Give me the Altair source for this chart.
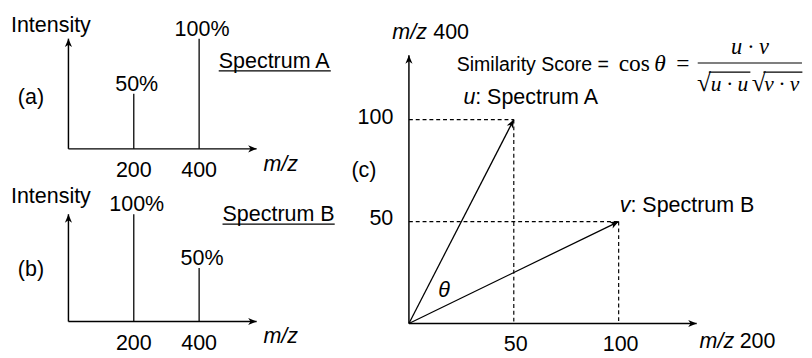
import math
import altair as alt
import pandas as pd

# ---------------- data ----------------
mz_values = [200, 400]          # m/z of the two peaks
spectrum_a = [50, 100]          # relative intensity (%) at m/z 200, 400
spectrum_b = [100, 50]
vector_ticks = [50, 100]        # tick values of the vector plot

# ---------------- layout / style ----------------
FONT = "Liberation Sans"
SERIF = "Liberation Serif"
FS = 22
LW, LH = 352, 175               # left panels
CW, CH = 452, 350               # right panel

A_XDOM = [-185, 866]
A_YDOM = [-31, 123.9]
B_YDOM = [-30, 129.1]
C_XDOM = [-21.86, 188.37]
C_YDOM = [-14.83, 152.63]

ARROW = "M0,0L-1,-0.42L-0.72,0L-1,0.42Z"
ARROW_SIZE = 300
AX_W = 1.5
LN_W = 1.3


def scales(xdom, ydom):
    xs = alt.Scale(domain=xdom, nice=False, zero=False)
    ys = alt.Scale(domain=ydom, nice=False, zero=False)

    def X(f):
        return alt.X(f, type="quantitative", scale=xs, axis=None)

    def Y(f):
        return alt.Y(f, type="quantitative", scale=ys, axis=None)

    def X2(f):
        return alt.X2(f)

    def Y2(f):
        return alt.Y2(f)

    return X, Y, X2, Y2


def txt(rows, X, Y, **style):
    df = pd.DataFrame(rows, columns=["x", "y", "t"])
    base = dict(font=FONT, fontSize=FS, color="black", align="left", baseline="middle")
    base.update(style)
    return alt.Chart(df).mark_text(**base).encode(x=X("x"), y=Y("y"), text=alt.Text("t:N"))


def segs(rows, X, Y, X2, Y2, **style):
    df = pd.DataFrame(rows, columns=["x", "y", "x2", "y2"])
    base = dict(color="black", strokeWidth=LN_W)
    base.update(style)
    return alt.Chart(df).mark_rule(**base).encode(x=X("x"), y=Y("y"), x2=X2("x2"), y2=Y2("y2"))


def heads(rows, X, Y):
    df = pd.DataFrame(rows, columns=["x", "y", "angle"])
    return alt.Chart(df).mark_point(shape=ARROW, filled=True, size=ARROW_SIZE, opacity=1,
                                    color="black").encode(
        x=X("x"), y=Y("y"), angle=alt.Angle("angle:Q", scale=None))


def spectrum_panel(intens, ydom, ann):
    X, Y, X2, Y2 = scales(A_XDOM, ydom)
    xend, yend = ann["xend"], ann["yend"]
    layers = [
        segs([(0, 0, xend, 0), (0, 0, 0, yend)], X, Y, X2, Y2, strokeWidth=AX_W),
        heads([(xend, 0, 0), (0, yend, 270)], X, Y),
        segs([(m, 0, m, i) for m, i in zip(mz_values, intens)], X, Y, X2, Y2),
        txt([(m, i, f"{i}%") for m, i in zip(mz_values, intens)], X, Y,
            align="center", baseline="alphabetic", dy=-3, dx=3),
        txt([(m, 0, str(m)) for m in mz_values], X, Y, align="center", dy=22),
        txt([(ann["mz"][0], ann["mz"][1], "m/z")], X, Y, fontStyle="italic"),
        txt([(ann["int"][0], ann["int"][1], "Intensity"),
             (ann["lab"][0], ann["lab"][1], ann["lab"][2]),
             (ann["name"][0], ann["name"][1], ann["name"][2])], X, Y),
        segs([(ann["ul"][0], ann["ul"][2], ann["ul"][1], ann["ul"][2])], X, Y, X2, Y2),
    ]
    return alt.layer(*layers).properties(width=LW, height=LH)


panel_a = spectrum_panel(spectrum_a, A_YDOM, dict(
    xend=576, yend=100, mz=(597, -14.2), int=(-176, 112), lab=(-155, 46.9, "(a)"),
    name=(460, 79.6, "Spectrum A"), ul=(460, 803, 70.8)))
panel_b = spectrum_panel(spectrum_b, B_YDOM, dict(
    xend=576, yend=100, mz=(597, -13.6), int=(-176, 116.4), lab=(-155, 49, "(b)"),
    name=(471.6, 100, "Spectrum B"), ul=(471.6, 815, 90.9)))

# ---------------- vector panel ----------------
X, Y, X2, Y2 = scales(C_XDOM, C_YDOM)
px_x = CW / (C_XDOM[1] - C_XDOM[0])
px_y = CH / (C_YDOM[1] - C_YDOM[0])

u = (spectrum_a[0], spectrum_a[1])
v = (spectrum_b[0], spectrum_b[1])


def ang(vec):
    a = math.degrees(math.atan2(-vec[1] * px_y, vec[0] * px_x))
    return a % 360


c_layers = [
    segs([(0, 0, 137.2, 0), (0, 0, 0, 131.6)], X, Y, X2, Y2, strokeWidth=AX_W),
    segs([(0, u[1], u[0], u[1]), (u[0], u[1], u[0], 0),
          (0, v[1], v[0], v[1]), (v[0], v[1], v[0], 0)], X, Y, X2, Y2,
         strokeDash=[4, 3], strokeWidth=1.2),
    segs([(0, 0, u[0], u[1]), (0, 0, v[0], v[1])], X, Y, X2, Y2),
    heads([(137.2, 0, 0), (0, 131.6, 270), (u[0], u[1], ang(u)), (v[0], v[1], ang(v))], X, Y),
    txt([(t, 0, str(t)) for t in vector_ticks], X, Y, align="center", dy=21, dx=2),
    txt([(0, t, str(t)) for t in vector_ticks], X, Y, align="right", dx=-16, dy=-3),
    txt([(-7.9, 142.8, "m/z"), (138.6, -8.6, "m/z"), (26.0, 111.0, "u"), (100.5, 57.9, "v"),
         (14.0, 16.3, "θ")], X, Y, fontStyle="italic"),
    txt([(11.6, 142.8, "400"), (157.7, -8.6, "200"), (31.6, 111.0, ": Spectrum A"),
         (105.6, 57.9, ": Spectrum B"), (-27.4, 75.1, "(c)")], X, Y),
    txt([(22.8, 126.8, "Similarity Score =")], X, Y, fontSize=20),
    txt([(100.0, 127.0, "cos"), (127.4, 127.0, "=")], X, Y, font=SERIF, fontSize=24),
    txt([(117.0, 127.0, "θ")], X, Y, font=SERIF, fontSize=24, fontStyle="italic"),
    segs([(137.7, 127.8, 187.4, 127.8)], X, Y, X2, Y2, strokeWidth=1.1),
    txt([(162.6, 135.6, "u · v")], X, Y, font=SERIF, fontSize=23, fontStyle="italic",
        align="center"),
    txt([(137.4, 117.8, "√"), (163.4, 117.8, "√")], X, Y, font=SERIF, fontSize=26),
    txt([(143.9, 117.6, "u · u"), (169.4, 117.6, "v · v")], X, Y, font=SERIF, fontSize=22,
        fontStyle="italic"),
    segs([(143.0, 123.3, 162.8, 123.3), (169.0, 123.3, 187.6, 123.3)], X, Y, X2, Y2,
         strokeWidth=1.1),
]
panel_c = alt.layer(*c_layers).properties(width=CW, height=CH)

left = alt.vconcat(panel_a, panel_b, spacing=0)
chart = alt.hconcat(left, panel_c, spacing=0).properties(
    padding=0
).configure_view(strokeWidth=0)

chart.save("out.html", embed_options={"renderer": "svg", "actions": False})
